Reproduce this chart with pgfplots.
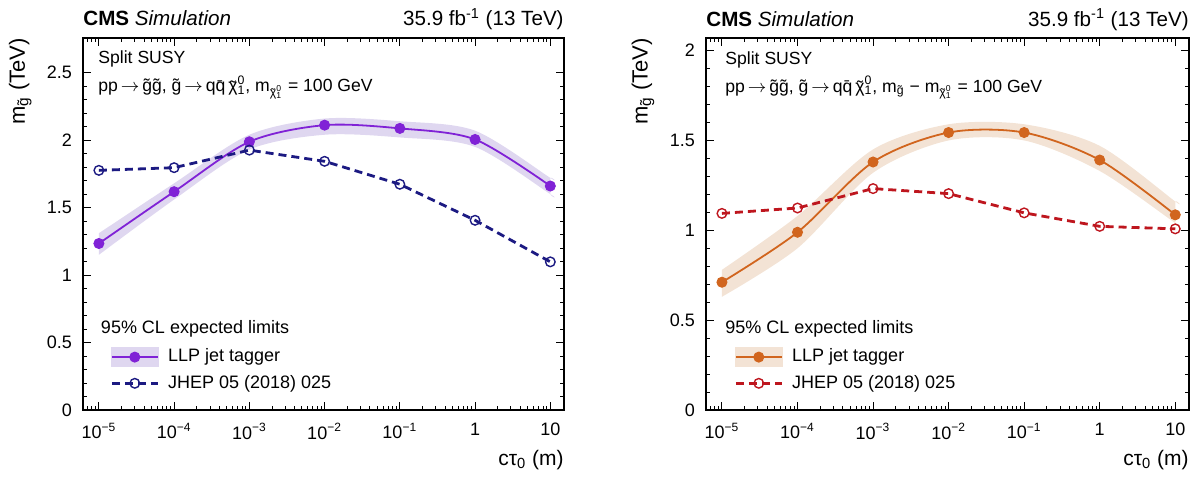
\documentclass[border=0pt]{standalone}
\usepackage{fontspec}
\setmainfont{Liberation Sans}
\usepackage{pgfplots}
\pgfplotsset{compat=1.18}
\usepackage{pgfplotstable}

\definecolor{llpL}{RGB}{128,34,214}
\definecolor{bandL}{RGB}{223,215,240}
\definecolor{jhepL}{RGB}{28,26,130}
\definecolor{llpR}{RGB}{209,101,30}
\definecolor{bandR}{RGB}{243,227,213}
\definecolor{jhepR}{RGB}{190,22,30}

\pgfplotsset{
  llpLimg/.style={legend image code/.code={
      \fill[bandL] (0pt,-4.5pt) rectangle (23pt,4.5pt);
      \draw[mark repeat=2,mark phase=2,##1] plot coordinates {(0pt,0pt) (11.5pt,0pt) (23pt,0pt)};}},
  llpRimg/.style={legend image code/.code={
      \fill[bandR] (0pt,-4.5pt) rectangle (23pt,4.5pt);
      \draw[mark repeat=2,mark phase=2,##1] plot coordinates {(0pt,0pt) (11.5pt,0pt) (23pt,0pt)};}},
  jhepimg/.style={legend image code/.code={
      \draw[mark repeat=2,mark phase=2,##1] plot coordinates {(0pt,0pt) (11.5pt,0pt) (23pt,0pt)};}},
}

% band outlines: upper edge left to right, then lower edge right to left
\pgfplotstableread{
x      y
1e-5   1.31
1e-4   1.68
1e-3   2.04
1e-2   2.16
1e-1   2.14
1      2.07
10     1.72
10     1.72
10     1.60
10     1.60
1      1.95
1e-1   2.02
1e-2   2.04
1e-3   1.93
1e-4   1.56
1e-5   1.15
}\bandLtab
\pgfplotstableread{
x      y
1e-5   1.234
1e-4   1.618
1e-3   1.988
1e-2   2.111
1e-1   2.087
1      2.005
10     1.660
}\llpLtab
\pgfplotstableread{
x      y
1e-5   1.776
1e-4   1.796
1e-3   1.926
1e-2   1.843
1e-1   1.673
1      1.406
10     1.098
}\jhepLtab
\pgfplotstableread{
x      y
1e-5   0.78
1e-4   1.08
1e-3   1.45
1e-2   1.59
1e-1   1.59
1      1.47
10     1.16
10     1.16
10     1.04
10     1.04
1      1.33
1e-1   1.50
1e-2   1.50
1e-3   1.32
1e-4   0.90
1e-5   0.63
}\bandRtab
\pgfplotstableread{
x      y
1e-5   0.711
1e-4   0.989
1e-3   1.380
1e-2   1.544
1e-1   1.544
1      1.391
10     1.086
}\llpRtab
\pgfplotstableread{
x      y
1e-5   1.094
1e-4   1.124
1e-3   1.232
1e-2   1.204
1e-1   1.097
1      1.022
10     1.008
}\jhepRtab

% chi with a tilde built by hand: tilde centred over the letter
\newcommand{\tchi}{\leavevmode\rlap{\makebox[\fontcharwd\font`χ][c]{\raisebox{-0.15ex}{˜}}}χ}
\newcommand{\chiz}{\tchi\rlap{\textsuperscript{0}}\textsubscript{1}}

\begin{document}
\begin{tikzpicture}
\path[use as bounding box] (0,0) rectangle (600.5pt,239pt);

% ---------------- left panel ----------------
\begin{axis}[
    xmode=log, clip mode=individual,
    scale only axis, width=240.5pt, height=186pt,
    at={(41.5pt,34pt)}, anchor=south west,
    xmin=6.15e-6, xmax=15.2,
    ymin=0, ymax=2.757, ytick={0,0.5,1,1.5,2,2.5},
    xtick={1e-5,1e-4,1e-3,1e-2,1e-1,1,10},
    xticklabels={10\textsuperscript{−5},10\textsuperscript{−4},10\textsuperscript{−3},10\textsuperscript{−2},10\textsuperscript{−1},1,10},
    minor xtick={7e-6,8e-6,9e-6,
      2e-5,3e-5,4e-5,5e-5,6e-5,7e-5,8e-5,9e-5,
      2e-4,3e-4,4e-4,5e-4,6e-4,7e-4,8e-4,9e-4,
      2e-3,3e-3,4e-3,5e-3,6e-3,7e-3,8e-3,9e-3,
      2e-2,3e-2,4e-2,5e-2,6e-2,7e-2,8e-2,9e-2,
      0.2,0.3,0.4,0.5,0.6,0.7,0.8,0.9,
      2,3,4,5,6,7,8,9},
    minor y tick num=4,
    tick align=inside,
    major tick length=4pt, minor tick length=2pt,
    axis line style={line width=0.8pt},
    every tick/.style={black, line width=0.5pt},
    tick label style={font=\fontsize{9}{10}\selectfont},
    yticklabel style={/pgf/number format/assume math mode=true, xshift=-2pt},
    xticklabel style={yshift=-3pt},
    xlabel={cτ\textsubscript{0} (m)},
    xlabel style={at={(rel axis cs:1,0)}, anchor=north east, yshift=-20pt, inner sep=0pt, font=\fontsize{10.5}{12}\selectfont},
    ylabel={m\textsubscript{\~{g}} (TeV)},
    ylabel style={at={(axis description cs:-0.106,1)}, anchor=south east, inner sep=0pt, font=\fontsize{11}{13}\selectfont},
    legend style={draw=none, fill=none, at={(rel axis cs:0,0)}, anchor=south west,
      xshift=13.5pt, yshift=9pt, font=\fontsize{9}{10}\selectfont,
      row sep=4pt, inner sep=0pt, column sep=4.5pt,
      nodes={inner sep=0pt, text height=6.5pt, text depth=1.8pt}},
    legend cell align=left,
  ]
\addplot[fill=bandL, draw=none, smooth, forget plot] table[x=x,y=y] {\bandLtab};
\addplot[llpL, line width=0.9pt, smooth, mark=*, mark size=2.5pt,
  mark options={fill=llpL, draw=llpL, line width=0.5pt}, llpLimg] table[x=x,y=y] {\llpLtab};
\addplot[jhepL, line width=1.4pt, dash pattern=on 4pt off 2.5pt, mark=o, mark size=2.4pt,
  mark options={solid, line width=0.7pt}, jhepimg] table[x=x,y=y] {\jhepLtab};
\legend{LLP jet tagger, JHEP 05 (2018) 025}
\node[anchor=base west, font=\fontsize{10.3}{12}\selectfont, inner sep=0pt, yshift=6pt] at (rel axis cs:0,1) {\textbf{CMS} \textit{Simulation}};
\node[anchor=base east, font=\fontsize{10.3}{12}\selectfont, inner sep=0pt, yshift=6pt] at (rel axis cs:1,1) {35.9 fb\textsuperscript{-1} (13 TeV)};
\node[anchor=base west, font=\fontsize{8.8}{10}\selectfont, inner sep=0pt, xshift=7.5pt, yshift=-13pt] at (rel axis cs:0,1) {Split SUSY};
\node[anchor=base west, font=\fontsize{8.8}{10}\selectfont, inner sep=0pt, xshift=7.5pt, yshift=-27pt] at (rel axis cs:0,1) {pp\,$\rightarrow$\,\~{g}\~{g}, \~{g}\,$\rightarrow$\,q\={q}\,\chiz, m\textsubscript{\chiz} = 100 GeV};
\node[anchor=west, font=\fontsize{9}{10}\selectfont, inner sep=0pt, xshift=8.8pt, yshift=40.5pt] at (rel axis cs:0,0) {95\% CL expected limits};
\end{axis}

% ---------------- right panel ----------------
\begin{axis}[
    xmode=log, clip mode=individual,
    scale only axis, width=241.5pt, height=186pt,
    at={(353pt,34pt)}, anchor=south west,
    xmin=6.15e-6, xmax=15.2,
    ymin=0, ymax=2.07, ytick={0,0.5,1,1.5,2},
    xtick={1e-5,1e-4,1e-3,1e-2,1e-1,1,10},
    xticklabels={10\textsuperscript{−5},10\textsuperscript{−4},10\textsuperscript{−3},10\textsuperscript{−2},10\textsuperscript{−1},1,10},
    minor xtick={7e-6,8e-6,9e-6,
      2e-5,3e-5,4e-5,5e-5,6e-5,7e-5,8e-5,9e-5,
      2e-4,3e-4,4e-4,5e-4,6e-4,7e-4,8e-4,9e-4,
      2e-3,3e-3,4e-3,5e-3,6e-3,7e-3,8e-3,9e-3,
      2e-2,3e-2,4e-2,5e-2,6e-2,7e-2,8e-2,9e-2,
      0.2,0.3,0.4,0.5,0.6,0.7,0.8,0.9,
      2,3,4,5,6,7,8,9},
    minor y tick num=4,
    tick align=inside,
    major tick length=4pt, minor tick length=2pt,
    axis line style={line width=0.8pt},
    every tick/.style={black, line width=0.5pt},
    tick label style={font=\fontsize{9}{10}\selectfont},
    yticklabel style={/pgf/number format/assume math mode=true, xshift=-2pt},
    xticklabel style={yshift=-3pt},
    xlabel={cτ\textsubscript{0} (m)},
    xlabel style={at={(rel axis cs:1,0)}, anchor=north east, yshift=-20pt, inner sep=0pt, font=\fontsize{10.5}{12}\selectfont},
    ylabel={m\textsubscript{\~{g}} (TeV)},
    ylabel style={at={(axis description cs:-0.106,1)}, anchor=south east, inner sep=0pt, font=\fontsize{11}{13}\selectfont},
    legend style={draw=none, fill=none, at={(rel axis cs:0,0)}, anchor=south west,
      xshift=14pt, yshift=9pt, font=\fontsize{9}{10}\selectfont,
      row sep=4pt, inner sep=0pt, column sep=4.5pt,
      nodes={inner sep=0pt, text height=6.5pt, text depth=1.8pt}},
    legend cell align=left,
  ]
\addplot[fill=bandR, draw=none, smooth, forget plot] table[x=x,y=y] {\bandRtab};
\addplot[llpR, line width=0.9pt, smooth, mark=*, mark size=2.5pt,
  mark options={fill=llpR, draw=llpR, line width=0.5pt}, llpRimg] table[x=x,y=y] {\llpRtab};
\addplot[jhepR, line width=1.4pt, dash pattern=on 4pt off 2.5pt, mark=o, mark size=2.4pt,
  mark options={solid, line width=0.7pt}, jhepimg] table[x=x,y=y] {\jhepRtab};
\legend{LLP jet tagger, JHEP 05 (2018) 025}
\node[anchor=base west, font=\fontsize{10.3}{12}\selectfont, inner sep=0pt, yshift=6pt] at (rel axis cs:0,1) {\textbf{CMS} \textit{Simulation}};
\node[anchor=base east, font=\fontsize{10.3}{12}\selectfont, inner sep=0pt, yshift=6pt] at (rel axis cs:1,1) {35.9 fb\textsuperscript{-1} (13 TeV)};
\node[anchor=base west, font=\fontsize{8.8}{10}\selectfont, inner sep=0pt, xshift=9.5pt, yshift=-13pt] at (rel axis cs:0,1) {Split SUSY};
\node[anchor=base west, font=\fontsize{8.8}{10}\selectfont, inner sep=0pt, xshift=9.5pt, yshift=-27pt] at (rel axis cs:0,1) {pp\,$\rightarrow$\,\~{g}\~{g}, \~{g}\,$\rightarrow$\,q\={q}\,\chiz, m\textsubscript{\~{g}} − m\textsubscript{\chiz} = 100 GeV};
\node[anchor=west, font=\fontsize{9}{10}\selectfont, inner sep=0pt, xshift=9.5pt, yshift=40.5pt] at (rel axis cs:0,0) {95\% CL expected limits};
\end{axis}
\end{tikzpicture}
\end{document}
